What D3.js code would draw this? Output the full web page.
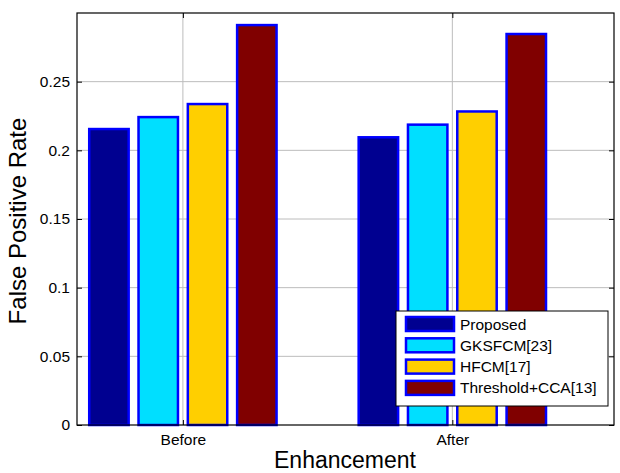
<!DOCTYPE html>
<html lang="en">
<head>
    <meta charset="UTF-8">
    <script src="https://d3js.org/d3.v7.min.js"></script>
    <title>False Positive Rate</title>
    <style>
        body { margin: 0; background: #fff; }
        text { font-family: Arial, "Liberation Sans", sans-serif; fill: #000; }
    </style>
</head>
<body>
    <div id="my_dataviz"></div>
<script>
    // data
    const categories = ["Before", "After"];
    const series = ["Proposed", "GKSFCM[23]", "HFCM[17]", "Threshold+CCA[13]"];
    const colors = ["#000090", "#00DFFF", "#FFCF00", "#800000"];
    const proposed = [0.2155, 0.2095];
    const gksfcm = [0.2242, 0.2187];
    const hfcm = [0.2337, 0.2283];
    const threshold = [0.2912, 0.2847];
    const yTicks = [0, 0.05, 0.1, 0.15, 0.2, 0.25];
    const yTickLabels = ["0", "0.05", "0.1", "0.15", "0.2", "0.25"];

    const values = [proposed, gksfcm, hfcm, threshold];

    const W = 620, H = 473;
    const margin = {top: 13, right: 6, bottom: 48, left: 77};
    const width = W - margin.left - margin.right,
          height = H - margin.top - margin.bottom;

    let svg = d3.select("#my_dataviz").append("svg")
                .attr("width", W)
                .attr("height", H);
    svg.append("rect").attr("width", W).attr("height", H).style("fill", "#fff");

    let g = svg.append("g")
               .attr("transform", "translate(" + margin.left + "," + margin.top + ")");

    // scales
    let x = d3.scaleLinear().domain([0.607, 2.6]).range([0, width]);
    let y = d3.scaleLinear().domain([0, 0.3]).range([height, 0]);
    let x1 = d3.scaleBand().domain(series).range([-98.6, 98.6])
               .paddingInner(0.2).paddingOuter(0.1);

    // grid
    g.append("g").selectAll("line").data(yTicks.slice(1)).enter()
     .append("line")
     .attr("x1", 0).attr("x2", width)
     .attr("y1", d => y(d)).attr("y2", d => y(d))
     .attr("stroke", "#bcbcbc").attr("stroke-width", 1);
    g.append("g").selectAll("line").data(categories).enter()
     .append("line")
     .attr("x1", (d, i) => x(i + 1)).attr("x2", (d, i) => x(i + 1))
     .attr("y1", 0).attr("y2", height)
     .attr("stroke", "#bcbcbc").attr("stroke-width", 1);

    // bars
    series.forEach(function (s, si) {
        g.append("g").selectAll("rect").data(values[si]).enter()
         .append("rect")
         .attr("x", (d, i) => x(i + 1) + x1(s))
         .attr("width", x1.bandwidth())
         .attr("y", d => y(d))
         .attr("height", d => height - y(d))
         .style("fill", colors[si])
         .style("stroke", "#0000ff")
         .style("stroke-width", 2.5);
    });

    // axes
    let yAxis = d3.axisLeft(y).tickValues(yTicks).tickSize(-5).tickPadding(7)
                  .tickFormat((d, i) => yTickLabels[i]);
    let ya = g.append("g").call(yAxis);
    ya.select(".domain").remove();
    ya.selectAll("text").style("font-size", "15.5px").style("font-family", "Arial, 'Liberation Sans', sans-serif");

    let yAxisR = d3.axisRight(y).tickValues(yTicks).tickSize(-5).tickFormat("");
    let yr = g.append("g").attr("transform", "translate(" + width + ",0)").call(yAxisR);
    yr.select(".domain").remove();

    let xAxis = d3.axisBottom(x).tickValues([1, 2]).tickSize(-5).tickPadding(9)
                  .tickFormat((d, i) => categories[i]);
    let xa = g.append("g").attr("transform", "translate(0," + height + ")").call(xAxis);
    xa.select(".domain").remove();
    xa.selectAll("text").style("font-size", "15.5px").style("font-family", "Arial, 'Liberation Sans', sans-serif");

    let xAxisT = d3.axisTop(x).tickValues([1, 2]).tickSize(-5).tickFormat("");
    let xt = g.append("g").call(xAxisT);
    xt.select(".domain").remove();

    g.selectAll(".tick line").attr("stroke", "#000");

    // frame
    g.append("rect").attr("width", width).attr("height", height)
     .style("fill", "none").style("stroke", "#000").style("stroke-width", 1.2);

    // axis labels
    svg.append("text").attr("text-anchor", "middle")
       .attr("x", 345).attr("y", 468)
       .style("font-size", "23px")
       .text("Enhancement");
    svg.append("text").attr("text-anchor", "middle")
       .attr("transform", "translate(26,221) rotate(-90)")
       .style("font-size", "24px")
       .text("False Positive Rate");

    // legend
    let lg = svg.append("g").attr("transform", "translate(396,311)");
    lg.append("rect").attr("width", 212).attr("height", 95)
      .style("fill", "#fff").style("stroke", "#000").style("stroke-width", 1);
    let rows = lg.selectAll("g.item").data(series).enter()
                 .append("g").attr("class", "item")
                 .attr("transform", (d, i) => "translate(0," + (13 + i * 21.3) + ")");
    rows.append("rect")
        .attr("x", 10).attr("y", -7).attr("width", 48).attr("height", 14)
        .style("fill", (d, i) => colors[i])
        .style("stroke", "#0000ff").style("stroke-width", 2.5);
    rows.append("text")
        .attr("x", 64).attr("y", 5.5)
        .style("font-size", "15.5px")
        .text(d => d);
</script>
</body>
</html>
